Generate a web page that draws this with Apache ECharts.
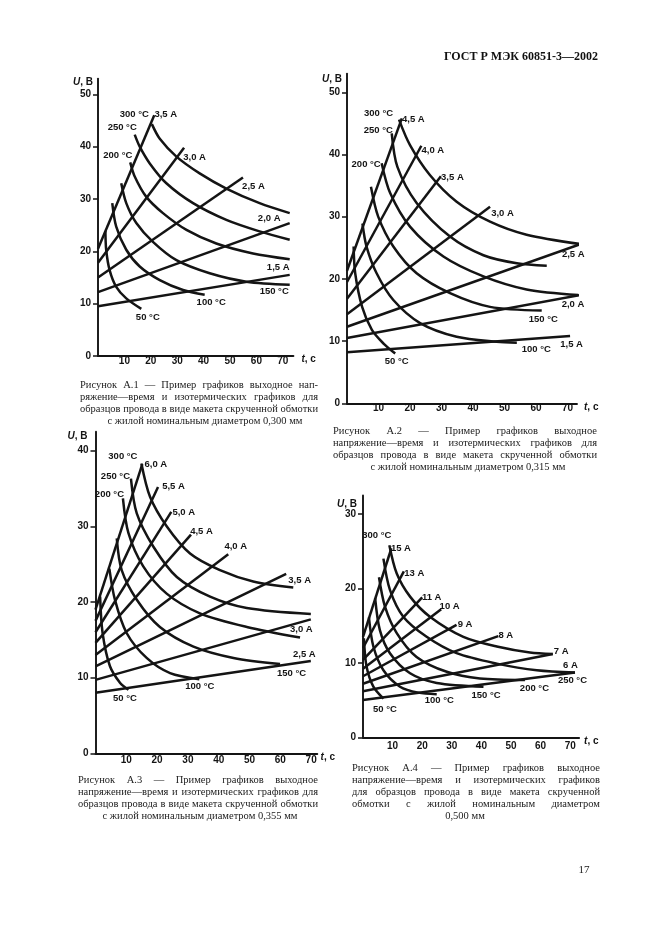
<!DOCTYPE html>
<html><head><meta charset="utf-8">
<script src="https://cdn.jsdelivr.net/npm/echarts@6/dist/echarts.min.js"></script>
<style>html,body{margin:0;padding:0;background:#fff}#c{width:661px;height:936px}</style>
</head><body><div id="c"></div>
<script>
// ---------- tick labels ----------
const xTickValues = [10, 20, 30, 40, 50, 60, 70];
const yTicks50 = [0, 10, 20, 30, 40, 50];
const yTicks40 = [0, 10, 20, 30, 40];
const yTicks30 = [0, 10, 20, 30];

// ---------- Figure A.1 (0,300 mm) ----------
const fig1AmpLabels = ['1,5 А', '2,0 А', '2,5 А', '3,0 А', '3,5 А'];
const fig1AmpLines = [
  [[0, 9.5], [72.6, 15.5]],
  [[0, 12.2], [72.6, 25.4]],
  [[0, 15.0], [54.9, 34.1]],
  [[0, 17.8], [32.6, 39.8]],
  [[0, 20.5], [21.3, 46.0]]
];
const fig1TempLabels = ['50 °C', '100 °C', '150 °C', '200 °C', '250 °C', '300 °C'];
const fig1TempCurves = [
  [[2.8, 23.9], [3.1, 20.3], [4.4, 16.4], [6.9, 13.2], [10.7, 11.0], [16.4, 9.0]],
  [[5.4, 29.2], [6.9, 24.7], [10.7, 20.3], [15.8, 17.1], [23.4, 14.5], [32.2, 12.6], [40.4, 11.7]],
  [[8.8, 33.0], [10.7, 29.2], [14.5, 25.4], [20.8, 21.8], [29.7, 18.3], [42.3, 15.8], [56.2, 14.2], [72.6, 13.6]],
  [[12.2, 37.0], [13.9, 34.3], [18.3, 30.4], [24.6, 27.3], [33.5, 24.1], [44.8, 21.5], [58.7, 19.6], [72.6, 18.5]],
  [[13.9, 42.3], [15.8, 40.0], [19.6, 36.8], [25.9, 33.0], [36.0, 29.2], [48.6, 26.0], [61.2, 23.8], [72.6, 22.2]],
  [[20.4, 44.3], [23.4, 41.5], [29.7, 38.1], [38.5, 34.9], [48.6, 32.0], [61.2, 29.2], [72.6, 27.3]]
];

// ---------- Figure A.2 (0,315 mm) ----------
const fig2AmpLabels = ['1,5 А', '2,0 А', '2,5 А', '3,0 А', '3,5 А', '4,0 А', '4,5 А'];
const fig2AmpLines = [
  [[0, 8.2], [70.8, 10.8]],
  [[0, 10.5], [73.8, 17.4]],
  [[0, 12.3], [74.2, 25.6]],
  [[0, 14.3], [45.4, 31.6]],
  [[0, 16.8], [29.8, 36.5]],
  [[0, 19.5], [23.6, 41.4]],
  [[0, 21.3], [17.4, 45.8]]
];
const fig2TempLabels = ['50 °C', '100 °C', '150 °C', '200 °C', '250 °C', '300 °C'];
const fig2TempCurves = [
  [[2.1, 25.2], [2.6, 20.9], [4.8, 15.5], [7.9, 11.8], [11.6, 9.6], [15.3, 8.0]],
  [[4.9, 28.9], [6.2, 25.2], [9.4, 20.9], [14.7, 16.6], [23.2, 12.9], [34.8, 10.7], [47.5, 9.9], [53.9, 9.75]],
  [[7.6, 34.8], [9.9, 30.0], [14.7, 25.2], [22.1, 20.9], [32.7, 17.7], [45.4, 15.5], [61.8, 14.9]],
  [[11.0, 38.6], [13.7, 33.8], [20.0, 28.4], [30.6, 23.6], [43.3, 20.4], [57.0, 18.3], [73.4, 17.4]],
  [[14.2, 43.4], [16.0, 38.0], [22.1, 32.2], [32.7, 26.8], [43.3, 23.8], [53.9, 22.5], [63.4, 22.1]],
  [[16.5, 45.6], [20.0, 41.5], [26.3, 36.7], [34.8, 32.4], [45.4, 29.2], [57.0, 27.1], [74.0, 25.6]]
];

// ---------- Figure A.3 (0,355 mm) ----------
const fig3AmpLabels = ['2,5 А', '3,0 А', '3,5 А', '4,0 А', '4,5 А', '5,0 А', '5,5 А', '6,0 А'];
const fig3AmpLines = [
  [[0, 8.0], [69.9, 12.2]],
  [[0, 9.7], [69.9, 17.7]],
  [[0, 11.5], [61.9, 23.7]],
  [[0, 13.0], [43.1, 26.3]],
  [[0, 14.6], [31.0, 28.9]],
  [[0, 16.0], [24.6, 31.9]],
  [[0, 17.5], [20.3, 35.2]],
  [[0, 19.0], [15.2, 38.2]]
];
const fig3TempLabels = ['50 °C', '100 °C', '150 °C', '200 °C', '250 °C', '300 °C'];
const fig3TempCurves = [
  [[1.5, 20.7], [2.3, 15.9], [4.7, 11.5], [8.0, 9.3], [10.7, 8.4]],
  [[4.5, 24.4], [6.3, 20.3], [10.1, 15.9], [16.6, 12.6], [24.2, 10.6], [33.7, 9.8]],
  [[6.9, 28.4], [8.5, 24.2], [13.4, 20.3], [20.9, 16.7], [31.8, 14.1], [44.8, 12.6], [59.9, 11.8]],
  [[8.9, 33.7], [10.7, 29.1], [15.5, 24.7], [23.1, 21.1], [33.9, 18.5], [49.1, 16.7], [66.4, 15.3]],
  [[11.5, 36.3], [13.4, 31.7], [18.8, 27.3], [26.4, 23.3], [37.2, 20.7], [49.1, 19.2], [69.9, 18.4]],
  [[14.9, 38.3], [17.7, 33.9], [23.1, 30.0], [30.7, 26.4], [40.4, 24.2], [51.2, 22.7], [64.2, 21.9]]
];

// ---------- Figure A.4 (0,500 mm) ----------
const fig4AmpLabels = ['6 А', '7 А', '8 А', '9 А', '10 А', '11 А', '13 А', '15 А'];
const fig4AmpLines = [
  [[0, 5.0], [71.6, 8.7]],
  [[0, 6.2], [64.1, 11.2]],
  [[0, 7.2], [45.7, 13.6]],
  [[0, 8.2], [31.6, 15.1]],
  [[0, 9.2], [26.4, 17.2]],
  [[0, 10.4], [20.0, 18.8]],
  [[0, 12.0], [13.8, 22.3]],
  [[0, 13.5], [9.6, 25.4]]
];
const fig4TempLabels = ['50 °C', '100 °C', '150 °C', '200 °C', '250 °C', '300 °C'];
const fig4TempCurves = [
  [[0.3, 13.3], [1.2, 9.5], [3.5, 6.8], [6.9, 5.2]],
  [[2.0, 16.1], [3.5, 12.2], [6.9, 9.0], [12.5, 6.8], [18.7, 6.0], [24.9, 5.8]],
  [[4.1, 18.7], [5.7, 14.4], [9.1, 11.3], [15.9, 8.6], [24.9, 7.3], [40.7, 6.8]],
  [[5.4, 21.5], [7.4, 17.6], [11.4, 14.0], [18.1, 10.8], [28.3, 8.8], [39.5, 7.9], [54.7, 7.7]],
  [[6.9, 24.0], [9.1, 19.8], [13.6, 16.2], [21.5, 13.5], [31.6, 11.3], [45.2, 9.9], [58.7, 9.0], [71.6, 8.7]],
  [[8.9, 25.8], [11.4, 22.0], [15.9, 18.9], [22.6, 16.2], [33.9, 13.5], [45.2, 12.2], [56.4, 11.4], [64.1, 11.2]]
];

// ---------- captions ----------
const caption1 = ['Рисунок А.1 — Пример графиков выходное нап-', 'ряжение—время и изотермических графиков для', 'образцов провода в виде макета скрученной обмотки', 'с жилой номинальным диаметром 0,300 мм'];
const caption2 = ['Рисунок А.2 — Пример графиков выходное', 'напряжение—время и изотермических графиков для', 'образцов провода в виде макета скрученной обмотки', 'с жилой номинальным диаметром 0,315 мм'];
const caption3 = ['Рисунок А.3 — Пример графиков выходное', 'напряжение—время и изотермических графиков для', 'образцов провода в виде макета скрученной обмотки', 'с жилой номинальным диаметром 0,355 мм'];
const caption4 = ['Рисунок А.4 — Пример графиков выходное', 'напряжение—время и изотермических графиков', 'для образцов провода в виде макета скрученной', 'обмотки с жилой номинальным диаметром', '0,500 мм'];
const headerText = 'ГОСТ Р МЭК 60851-3—2002';
const pageNumber = '17';

// ---------- layout / style (not data) ----------
const INK = '#141414';
const SANS = "'Liberation Sans', Arial, sans-serif";
const SERIF = "'Liberation Serif', 'Times New Roman', serif";
const figLayout = [
  { left: 98, top: 78.6, width: 195.4, height: 277.4, xmax: 74, ymax: 53, yTicks: yTicks50, xMargin: 0, yNameGap: -4, yNamePad: 5, xNameGap: 8 },
  { left: 347, top: 73.6, width: 230, height: 329.7, xmax: 73, ymax: 53, yTicks: yTicks50, xMargin: 0, yNameGap: -6, yNamePad: 5, xNameGap: 7 },
  { left: 95.5, top: 431.7, width: 221.8, height: 321.6, xmax: 72, ymax: 42.5, yTicks: yTicks40, xMargin: 2, yNameGap: -5, yNamePad: 8, xNameGap: 3 },
  { left: 363, top: 495.4, width: 216.1, height: 241.9, xmax: 73, ymax: 32.5, yTicks: yTicks30, xMargin: 4, yNameGap: -10, yNamePad: 6, xNameGap: 5 }
];
const fig1AmpPos = [[-11, -7], [-20, -4], [11, 9], [11, 10], [12, 0]];
const fig1TempAnchor = ['end', 'end', 'end', 'start', 'start', 'start'];
const fig1TempPos = [[7, 9], [7, 8], [-15, 7], [-12, -6], [-12, -7], [-17, -9]];
const fig2AmpPos = [[2, 9], [-6, 10], [-7, 11], [13, 7], [12, 2], [12, 5], [12, 1]];
const fig2TempAnchor = ['end', 'end', 'end', 'start', 'start', 'start'];
const fig2TempPos = [[2, 8], [20, 7], [2, 9], [-15, 2], [-13, -2], [-20, -6]];
const fig3AmpPos = [[-6, -6], [-9, 11], [14, 7], [8, -7], [11, -3], [13, 1], [16, 0], [14, 1]];
const fig3TempAnchor = ['end', 'end', 'end', 'start', 'start', 'start'];
const fig3TempPos = [[-3, 9], [1, 8], [12, 10], [-13, -3], [-15, -2], [-18, -7]];
const fig4AmpPos = [[-4, -7], [9, -2], [8, 0], [9, 0], [9, -2], [10, 1], [11, 3], [10, 1]];
const fig4TempAnchor = ['end', 'end', 'end', 'end', 'end', 'start'];
const fig4TempPos = [[2, 11], [3, 7], [3, 9], [10, 9], [-2, 8], [-12, -9]];

const grids = [], xAxes = [], yAxes = [], series = [];
figLayout.forEach((L, i) => {
  grids.push({ left: L.left, top: L.top, width: L.width, height: L.height, containLabel: false });
  xAxes.push({
    gridIndex: i, type: 'value', min: 0, max: L.xmax, interval: 10,
    axisLine: { show: true, onZero: false, lineStyle: { color: INK, width: 1.9 } },
    axisTick: { show: false }, splitLine: { show: false },
    axisLabel: { customValues: xTickValues, color: INK, fontSize: 10, fontWeight: 'bold', fontFamily: SANS, margin: L.xMargin },
    name: '{i|t}, с', nameLocation: 'end', nameGap: L.xNameGap,
    nameTextStyle: { color: INK, fontSize: 10, fontWeight: 'bold', fontFamily: SANS, verticalAlign: 'middle', padding: [7, 0, 0, 0],
      rich: { i: { fontStyle: 'italic', fontWeight: 'bold', fontSize: 10, fontFamily: SANS, color: INK } } }
  });
  yAxes.push({
    gridIndex: i, type: 'value', min: 0, max: L.ymax, interval: 10,
    axisLine: { show: true, onZero: false, lineStyle: { color: INK, width: 1.9 } },
    axisTick: { show: true, customValues: L.yTicks, length: 5, lineStyle: { color: INK, width: 1.5 } },
    splitLine: { show: false },
    axisLabel: { customValues: L.yTicks, color: INK, fontSize: 10, fontWeight: 'bold', fontFamily: SANS, margin: 7 },
    name: '{i|U}, В', nameLocation: 'end', nameGap: L.yNameGap,
    nameTextStyle: { color: INK, fontSize: 10, fontWeight: 'bold', fontFamily: SANS, align: 'right', verticalAlign: 'middle', padding: [0, L.yNamePad, 0, 0],
      rich: { i: { fontStyle: 'italic', fontWeight: 'bold', fontSize: 10, fontFamily: SANS, color: INK } } }
  });
});

function curveSeries(fig, pts, text, anchor, pos, smooth) {
  const ai = anchor === 'start' ? 0 : pts.length - 1;
  return {
    type: 'line', xAxisIndex: fig, yAxisIndex: fig, smooth: smooth, clip: false, silent: true,
    symbol: 'circle', symbolSize: 1, showSymbol: true, animation: false,
    itemStyle: { color: 'rgba(0,0,0,0)' },
    lineStyle: { color: INK, width: 2.5 },
    emphasis: { disabled: true },
    label: { show: false },
    data: pts.map((p, k) => k === ai ? {
      value: p,
      label: { show: true, formatter: text, position: pos, align: 'center', verticalAlign: 'middle',
        color: INK, fontSize: 9.5, fontWeight: 'bold', fontFamily: SANS }
    } : p)
  };
}
function addFigure(fig, ampLabels, ampLines, ampPos, tempLabels, tempCurves, tempAnchor, tempPos) {
  ampLines.forEach((pts, k) => series.push(curveSeries(fig, pts, ampLabels[k], 'end', ampPos[k], false)));
  tempCurves.forEach((pts, k) => series.push(curveSeries(fig, pts, tempLabels[k], tempAnchor[k], tempPos[k], 0.3)));
}
addFigure(0, fig1AmpLabels, fig1AmpLines, fig1AmpPos, fig1TempLabels, fig1TempCurves, fig1TempAnchor, fig1TempPos);
addFigure(1, fig2AmpLabels, fig2AmpLines, fig2AmpPos, fig2TempLabels, fig2TempCurves, fig2TempAnchor, fig2TempPos);
addFigure(2, fig3AmpLabels, fig3AmpLines, fig3AmpPos, fig3TempLabels, fig3TempCurves, fig3TempAnchor, fig3TempPos);
addFigure(3, fig4AmpLabels, fig4AmpLines, fig4AmpPos, fig4TempLabels, fig4TempCurves, fig4TempAnchor, fig4TempPos);

// ---------- captions as justified text ----------
const CAP_FONT = '10.5px ' + SERIF;
const mctx = document.createElement('canvas').getContext('2d');
const graphics = [];
function justifiedLine(line, x0, x1, y) {
  mctx.font = CAP_FONT;
  const words = line.split(' ');
  const widths = words.map(w => mctx.measureText(w).width);
  const total = widths.reduce((a, b) => a + b, 0);
  const gap = words.length > 1 ? (x1 - x0 - total) / (words.length - 1) : 0;
  let x = x0;
  words.forEach((w, k) => {
    graphics.push({ type: 'text', x: x, y: y, silent: true,
      style: { text: w, font: CAP_FONT, fill: '#222', align: 'left', verticalAlign: 'middle' } });
    x += widths[k] + gap;
  });
}
function centeredLine(line, cx, y) {
  graphics.push({ type: 'text', x: cx, y: y, silent: true,
    style: { text: line, font: CAP_FONT, fill: '#222', align: 'center', verticalAlign: 'middle' } });
}
function caption(lines, x0, x1, y0, cx) {
  lines.forEach((ln, k) => {
    const y = y0 + k * 12;
    if (k < lines.length - 1) justifiedLine(ln, x0, x1, y); else centeredLine(ln, cx, y);
  });
}
caption(caption1, 80, 318, 385, 205);
caption(caption2, 333, 597, 431, 468);
caption(caption3, 78, 318, 780, 200);
caption(caption4, 352, 600, 768, 465);
graphics.push({ type: 'text', x: 598, y: 57, silent: true,
  style: { text: headerText, font: 'bold 12px ' + SERIF, fill: '#111', align: 'right', verticalAlign: 'middle' } });
graphics.push({ type: 'text', x: 584, y: 870, silent: true,
  style: { text: pageNumber, font: '11px ' + SERIF, fill: '#222', align: 'center', verticalAlign: 'middle' } });

const chart = echarts.init(document.getElementById('c'), null, { renderer: 'canvas' });
chart.setOption({
  backgroundColor: '#ffffff',
  animation: false,
  grid: grids, xAxis: xAxes, yAxis: yAxes, series: series,
  graphic: graphics
});
</script></body></html>
